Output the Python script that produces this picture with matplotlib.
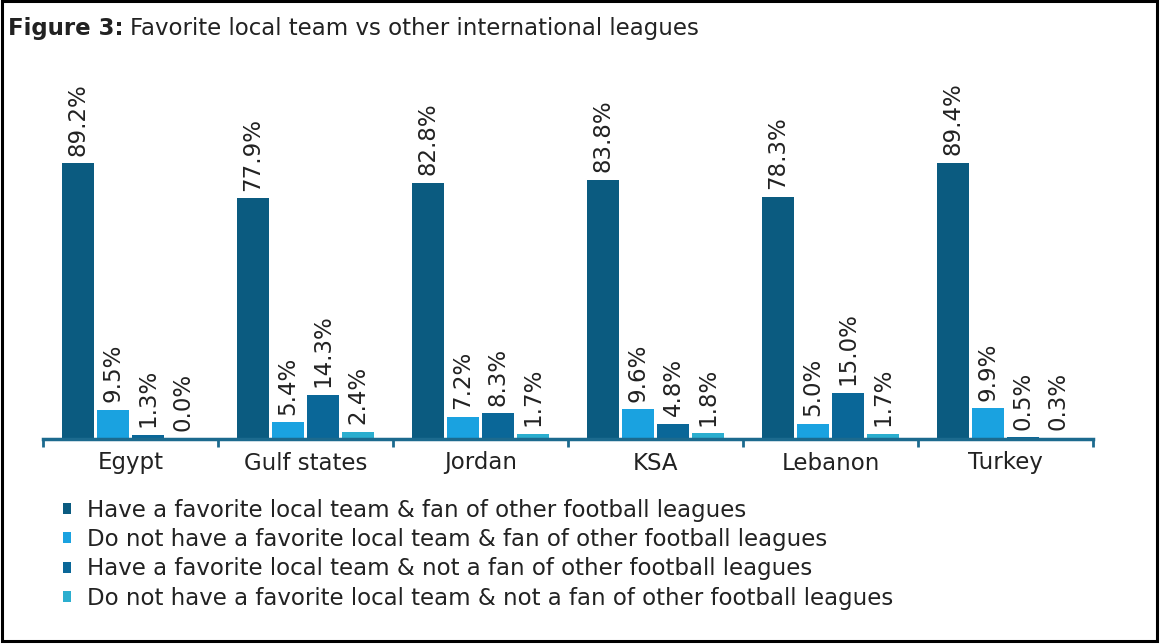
import matplotlib
matplotlib.use("Agg")
import matplotlib.pyplot as plt
from matplotlib.patches import Rectangle
import numpy as np

countries = ["Egypt", "Gulf states", "Jordan", "KSA", "Lebanon", "Turkey"]
series_names = [
    "Have a favorite local team & fan of other football leagues",
    "Do not have a favorite local team & fan of other football leagues",
    "Have a favorite local team & not a fan of other football leagues",
    "Do not have a favorite local team & not a fan of other football leagues",
]
fav_fan = [89.2, 77.9, 82.8, 83.8, 78.3, 89.4]
nofav_fan = [9.5, 5.4, 7.2, 9.6, 5.0, 9.9]
fav_nofan = [1.3, 14.3, 8.3, 4.8, 15.0, 0.5]
nofav_nofan = [0.0, 2.4, 1.7, 1.8, 1.7, 0.3]
series = [fav_fan, nofav_fan, fav_nofan, nofav_nofan]
colors = ["#0B5B80", "#1AA2E0", "#0A6798", "#2BAECF"]

FS = 16.5
TXT = "#222222"
W, H = 1161, 644
fig = plt.figure(figsize=(W / 100, H / 100), dpi=100)
fig.patch.set_facecolor("white")

ax_left, ax_right = 43 / W, 1093 / W
ax_bottom = (H - 439) / H
ax_top = (H - 130) / H
ax = fig.add_axes([ax_left, ax_bottom, ax_right - ax_left, ax_top - ax_bottom])

x = np.arange(len(countries))
offsets = [-0.3, -0.1, 0.1, 0.3]
bw = 0.183
for s, vals, c, off in zip(series_names, series, colors, offsets):
    ax.bar(x + off, vals, width=bw, color=c, label=s, zorder=2)
    for xi, v in zip(x, vals):
        ax.text(xi + off, v + 2.5, f"{v:.1f}%", rotation=90, ha="center", va="bottom",
                fontsize=FS, color=TXT, clip_on=False)

ax.set_xlim(-0.5, len(countries) - 0.5)
ax.set_ylim(0, 100)
for sp in ["top", "right", "left"]:
    ax.spines[sp].set_visible(False)
ax.spines["bottom"].set_color("#1C6A8E")
ax.spines["bottom"].set_linewidth(2.5)
ax.set_yticks([])
ax.set_xticks(x)
ax.set_xticklabels(countries, fontsize=FS, color=TXT)
ax.tick_params(axis="x", which="major", length=0, pad=9)
ax.set_xticks(np.arange(-0.5, len(countries)), minor=True)
ax.tick_params(axis="x", which="minor", length=6, width=2, color="#1C6A8E", direction="out")

# title
t1 = fig.text(8 / W, 1 - 28 / H, "Figure 3:", fontsize=FS, fontweight="bold", color=TXT,
              va="center", ha="left")
fig.canvas.draw()
bb = t1.get_window_extent()
fig.text((bb.x1 + 6) / W, 1 - 28 / H, "Favorite local team vs other international leagues",
         fontsize=FS, color=TXT, va="center", ha="left")

# legend
fig.legend(loc="upper left", bbox_to_anchor=(42 / W, 1 - 478 / H), frameon=False, fontsize=FS,
           handlelength=0.35, handleheight=0.35, handletextpad=0.7, labelspacing=0.28,
           labelcolor=TXT)

fig.patches.append(Rectangle((2 / W, 3 / H), (1157 - 2) / W, (H - 4) / H, transform=fig.transFigure,
                             fill=False, edgecolor="black", linewidth=2.2))

fig.savefig("out.png", dpi=100, facecolor="white")
